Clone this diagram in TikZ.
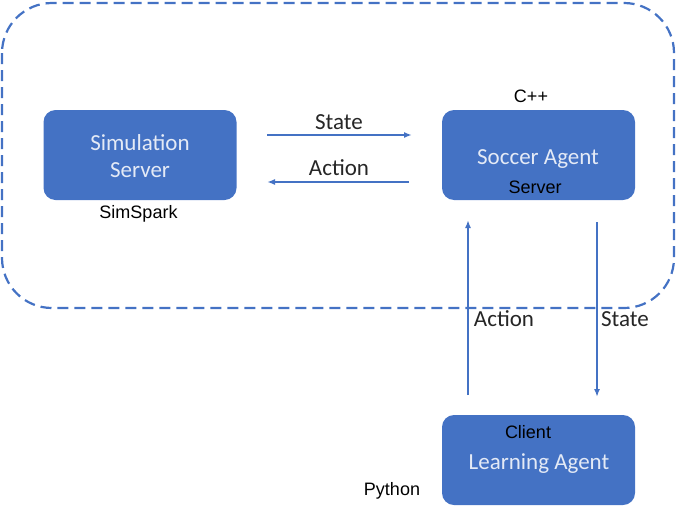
\documentclass[tikz,border=0pt]{standalone}
\usepackage{fontspec}
\setmainfont{Carlito}
\newfontfamily\arialfont{Liberation Sans}
\usepackage{xcolor}
\usetikzlibrary{arrows.meta}
\definecolor{officeblue}{RGB}{68,114,196}
\definecolor{boxtext}{RGB}{228,234,246}
\definecolor{labelgray}{RGB}{38,38,38}

\begin{document}
\begin{tikzpicture}[x=1pt,y=-1pt,
  block/.style={fill=officeblue, rounded corners=12pt, minimum width=193pt, minimum height=90pt, inner sep=0pt},
  blocktext/.style={text=boxtext, font=\fontsize{23}{27}\selectfont, anchor=base},
  flow/.style={officeblue, line width=1.8pt, -{Latex[length=8pt,width=6pt]}},
  flowlabel/.style={text=labelgray, font=\fontsize{23}{27}\selectfont, anchor=base},
  tag/.style={text=black, font=\arialfont\fontsize{18}{21}\selectfont, anchor=base}]
  \useasboundingbox (0,0) rectangle (676,506);
  % Container
  \draw[officeblue, line width=2.2pt, dash pattern=on 11pt off 6pt, rounded corners=50pt] (2,3) rectangle (674,308);
  % Boxes
  \node[block] (sim) at (140,155) {};
  \node[block] (soccer) at (538.5,155) {};
  \node[block] (learn) at (538.5,460) {};
  % Box texts
  \node[blocktext] (simtxt) at (140,150) {Simulation};
  \node[blocktext] (simtxtb) at (140,177) {Server};
  \node[blocktext] (soccertxt) at (538,164) {Soccer Agent};
  \node[blocktext] (learntxt) at (539,469) {Learning Agent};
  % Tags
  \node[tag] (cpp) at (531,102.5) {C++};
  \node[tag] (simspark) at (138.5,218.5) {SimSpark};
  \node[tag] (server) at (535,193.5) {Server};
  \node[tag] (client) at (528,438.5) {Client};
  \node[tag] (python) at (392,495.5) {Python};
  % Arrow ends
  \coordinate (stateA) at (267,135);
  \coordinate (stateB) at (412,135);
  \coordinate (actionA) at (409,182);
  \coordinate (actionB) at (267,182);
  \coordinate (upA) at (468,395);
  \coordinate (upB) at (468,220);
  \coordinate (downA) at (597,222);
  \coordinate (downB) at (597,397);
  % Arrows
  \draw[flow] (stateA) -- (stateB);
  \draw[flow] (actionA) -- (actionB);
  \draw[flow] (upA) -- (upB);
  \draw[flow] (downA) -- (downB);
  % Arrow labels
  \node[flowlabel] (statetop) at (339,129) {State};
  \node[flowlabel] (actiontop) at (339,175) {Action};
  \node[flowlabel] (actionside) at (504,326) {Action};
  \node[flowlabel] (stateside) at (625,326) {State};
\end{tikzpicture}
\end{document}
